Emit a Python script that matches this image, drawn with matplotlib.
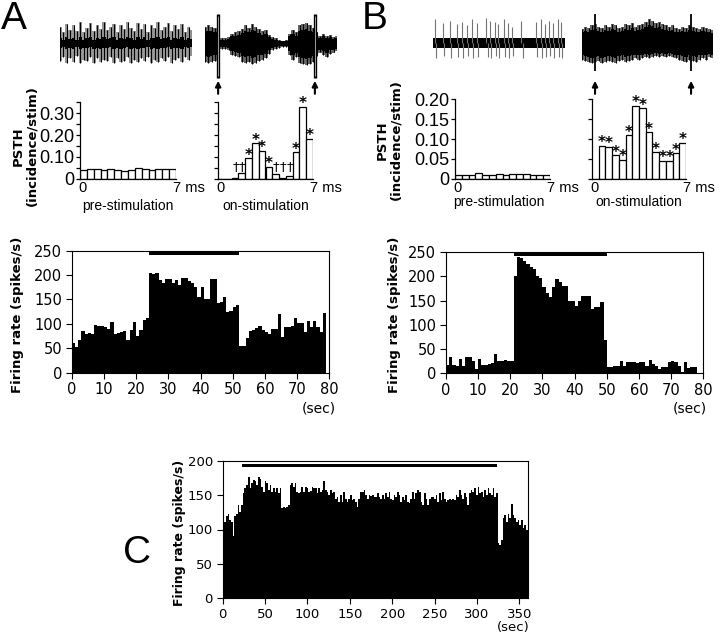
import numpy as np
import matplotlib
matplotlib.use('Agg')
import matplotlib.pyplot as plt

W, H = 720, 637
SANS = 'Liberation Sans'

# ---------------- data ----------------
# PSTH, 0.5 ms bins from 0 to 7 ms (incidence/stim)
psth_edges = np.arange(0, 7, 0.5)
psth_a_pre = [0.041, 0.045, 0.045, 0.043, 0.044, 0.042, 0.037, 0.043, 0.050, 0.045, 0.040, 0.044, 0.044, 0.046]
psth_a_on = [0.0, 0.002, 0.006, 0.025, 0.094, 0.163, 0.128, 0.056, 0.023, 0.006, 0.015, 0.122, 0.327, 0.183]
psth_a_marks = ['', '', '†', '†', '*', '*', '*', '*', '†', '†', '†', '*', '*', '*']
psth_b_pre = [0.010, 0.010, 0.010, 0.015, 0.010, 0.010, 0.013, 0.010, 0.013, 0.012, 0.012, 0.010, 0.010, 0.011]
psth_b_on = [0.0, 0.083, 0.081, 0.059, 0.048, 0.109, 0.183, 0.177, 0.117, 0.067, 0.046, 0.046, 0.064, 0.091]
psth_b_marks = [''] + ['*'] * 13

# firing rate, 1 s bins (spikes/s)
rate_a = [61, 52, 66, 86, 80, 82, 80, 98, 96, 95, 93, 89, 103, 80, 81, 83, 85, 67, 87, 103,
          76, 87, 108, 112,
          205, 202, 204, 190, 183, 193, 191, 183, 189, 180, 195, 195, 187, 183, 176, 156,
          175, 151, 150, 192, 192, 142, 144, 156, 124, 127, 134, 139,
          55, 55, 72, 85, 87, 92, 96, 87, 83, 79, 89, 90, 120, 74, 93, 94, 96, 112, 101, 101,
          83, 105, 93, 105, 93, 83, 122]
rate_b = [18, 33, 18, 16, 30, 16, 33, 34, 26, 9, 29, 17, 17, 19, 21, 40, 26, 26, 27, 26, 26,
          200, 240, 238, 233, 226, 220, 216, 202, 197, 178, 165, 157, 179, 194, 188, 181, 181,
          150, 150, 140, 150, 160, 160, 160, 133, 136, 136, 147,
          69,
          14, 12, 15, 16, 25, 16, 24, 24, 24, 21, 23, 23, 16, 28, 19, 16, 9, 14, 14, 24,
          26, 23, 16, 3, 23, 11, 14, 12]
# panel C, ~2 s bins over 360 s
rate_c = [137, 111, 119, 122, 114, 111, 90, 119, 123, 136, 126, 136, 153, 160, 165, 177, 160, 167, 172, 170,
          165, 177, 174, 162, 155, 170, 167, 157, 165, 155, 160, 154, 160, 153, 160, 131, 133, 131, 133, 136,
          165, 167, 162, 167, 155, 153, 155, 162, 155, 162, 160, 155, 156, 162, 160, 160, 153, 160, 155, 157,
          170, 157, 155, 150, 157, 153, 155, 145, 147, 140, 150, 140, 155, 145, 140, 145, 150, 143, 145, 140,
          133, 145, 155, 155, 157, 150, 145, 150, 149, 150, 147,
          147, 153, 147, 145, 150, 145, 153, 147, 155, 145, 143, 150, 147, 155, 150, 140, 147, 143, 150, 140,
          138, 145, 155, 145, 153, 157, 155, 140, 136, 153, 145, 136, 145, 147, 147, 145, 150, 140, 153, 143,
          155, 145, 140, 143, 145, 143, 145, 143, 150, 147, 157, 150, 145, 153, 147, 136, 153, 157, 155, 160,
          150, 162, 153, 155, 147, 157, 150, 160, 153, 150, 160, 147, 153,
          80, 77, 85, 116, 121, 111, 123, 116, 137, 121, 116, 111, 114, 107, 114, 102, 107, 99]
stim_a = [24, 52]
stim_b = [21, 50]
stim_c = [23, 324]

# raw traces: envelope of overlaid sweeps (arbitrary units), -0.95..8.6 ms
stim_times = [0, 7]
trace_a_pre_up = [14, 9, 16, 11, 15, 10, 18, 9, 13, 17, 10, 15, 12, 18, 11, 14, 16, 9, 15, 12,
                  18, 13, 10, 17, 12, 16, 9, 15, 13, 18, 11, 14, 17, 10, 15, 12, 16, 9, 14, 11]
trace_a_pre_lo = [-15, -12, -17, -13, -16, -11, -17, -14, -15, -12, -17, -13, -16, -14, -15, -12, -17, -13, -16, -15,
                  -12, -17, -14, -16, -13, -15, -12, -17, -14, -16, -13, -15, -12, -17, -14, -13, -16, -12, -14, -11]
trace_a_on_up = [14, 15, 14, 13, 6, 4, 4, 5, 8, 9, 10, 12, 15, 13, 16, 14, 12, 10, 11, 7,
                 5, 4, 3, 2, 3, 8, 11, 9, 15, 16, 17, 15, 13, 9, 6, 8, 6, 7, 5, 6]
trace_a_on_lo = [-16, -17, -16, -15, -8, -5, -5, -6, -10, -11, -12, -16, -17, -16, -18, -17, -15, -14, -13, -9,
                 -6, -5, -4, -3, -3, -10, -14, -12, -17, -18, -19, -18, -16, -11, -8, -10, -12, -9, -8, -7]
trace_b_on_up = [12, 14, 13, 15, 16, 14, 13, 15, 14, 16, 15, 13, 14, 16, 15, 17, 14, 15, 16, 18,
                 20, 19, 17, 18, 16, 15, 14, 15, 13, 12, 14, 13, 15, 14, 13, 12, 14, 13, 12, 11]
trace_b_on_lo = [-14, -15, -16, -17, -16, -15, -17, -16, -15, -16, -17, -15, -14, -16, -15, -14, -13, -14, -13, -12,
                 -13, -12, -11, -12, -11, -12, -11, -12, -13, -14, -15, -16, -14, -15, -16, -14, -13, -14, -12, -13]
spike_b_t = [-0.81, -0.21, 0.28, 0.76, 1.16, 1.48, 1.84, 2.2, 2.92, 3.16, 3.52, 3.76,
             4.2, 4.48, 4.77, 5.45, 6.53, 6.84, 7.13, 7.42, 7.73, 8.09, 8.33]
spike_b_up = [20, 17, 19, 16, 18, 15, 20, 17, 21, 19, 18, 16, 20, 17, 14, 19, 18, 20, 16, 19, 17, 20, 18]
spike_b_dn = [-13, -11, -13, -12, -13, -11, -13, -12, -12, -13, -11, -13, -12, -13, -11, -13, -12, -13,
              -12, -11, -13, -12, -13]

fig = plt.figure(figsize=(W / 100, H / 100), dpi=100)


def px_axes(left, top, right, bottom):
    return fig.add_axes([left / W, 1 - bottom / H, (right - left) / W, (bottom - top) / H])


def px_text(x, y, s, **kw):
    fig.text(x / W, 1 - y / H, s, **kw)


# ---------------- raw traces ----------------
def trace_axes(left, right):
    ax = px_axes(left, 10, right, 95)
    ax.set_xlim(-0.95, 8.6)
    ax.set_ylim(-44, 28)
    ax.axis('off')
    return ax


def envelope(ax, up, lo, inner=0.6, fringe='0.4'):
    t = np.linspace(-0.95, 8.6, len(up))
    up = np.array(up, float)
    lo = np.array(lo, float)
    ax.fill_between(t, lo, up, step='mid', color=fringe, lw=0)
    ax.vlines(t, lo, up, color='black', lw=0.8)
    ax.fill_between(t, lo * inner, up * inner, step='mid', color='black', lw=0)
    ax.plot(t, np.zeros_like(t), color='black', lw=3.5)


def arrows(ax):
    for s in stim_times:
        ax.annotate('', xy=(s, -32), xytext=(s, -43),
                    arrowprops=dict(arrowstyle='-|>', color='black', lw=1.5,
                                    mutation_scale=8, shrinkA=0, shrinkB=0))


ax = trace_axes(60, 192)
envelope(ax, trace_a_pre_up, trace_a_pre_lo, inner=0.3, fringe='0.6')

ax = trace_axes(205, 337)
envelope(ax, trace_a_on_up, trace_a_on_lo, inner=0.7)
ax.vlines(stim_times, -30, 25, color='black', lw=2.4)
ax.vlines(stim_times, -28, 23, color='0.7', lw=0.6)
arrows(ax)

ax = trace_axes(433, 565)
tb = np.linspace(-0.95, 8.6, 40)
ax.fill_between(tb, -4, 4, color='black', lw=0)
ax.vlines(spike_b_t, 0, spike_b_up, color='0.45', lw=0.8)
ax.vlines(np.array(spike_b_t) + 0.08, spike_b_dn, 0, color='0.45', lw=0.8)

ax = trace_axes(582, 713)
envelope(ax, trace_b_on_up, trace_b_on_lo, inner=0.75)
ax.vlines(stim_times, -24, 25, color='black', lw=1.3)
arrows(ax)


# ---------------- PSTH ----------------
def psth(rect, values, ymax, ylabels, marks=None, dagger_y=0.0):
    ax = px_axes(*rect)
    ax.bar(psth_edges, values, width=0.5, align='edge', color='white', edgecolor='black', lw=0.9)
    ax.set_xlim(0, 7)
    ax.set_ylim(0, ymax)
    for s in ['top', 'right']:
        ax.spines[s].set_visible(False)
    for s in ['left', 'bottom']:
        ax.spines[s].set_linewidth(0.9)
    ax.set_xticks([])
    ticks = np.arange(0, ymax + 1e-9, 0.05)
    ax.set_yticks(ticks)
    ax.set_yticklabels(ylabels if ylabels else [''] * len(ticks), family=SANS)
    ax.tick_params(axis='y', direction='out', length=3, width=0.9, pad=1, labelsize=13)
    ax.annotate('0', xy=(0, 0), xycoords=('data', 'axes fraction'), xytext=(2, -1.5),
                textcoords='offset points', ha='center', va='top', fontsize=10.5, family=SANS)
    ax.annotate('7 ms', xy=(7, 0), xycoords=('data', 'axes fraction'), xytext=(-2.5, -1.5),
                textcoords='offset points', ha='left', va='top', fontsize=10.5, family=SANS)
    if marks:
        for x, v, m in zip(psth_edges, values, marks):
            if m == '*':
                ax.annotate('*', (x + 0.25, v), xytext=(0, -1), textcoords='offset points',
                            ha='center', va='baseline', fontsize=11, fontweight='bold',
                            annotation_clip=False)
            elif m == '†':
                ax.annotate('†', (x + 0.3, dagger_y), ha='center', va='baseline',
                            fontsize=9.5, annotation_clip=False)
    return ax


a_lab = ['0', '', '0.10', '', '0.20', '', '0.30', '']
b_lab = ['0', '0.05', '0.10', '0.15', '0.20']
psth((80, 102, 176, 179), psth_a_pre, 0.35, a_lab)
psth((218, 102, 313, 179), psth_a_on, 0.35, None, psth_a_marks, dagger_y=0.04)
psth((455, 99, 550, 179), psth_b_pre, 0.20, b_lab)
psth((592, 99, 686, 179), psth_b_on, 0.20, None, psth_b_marks)

for x, y, s in [(128, 206, 'pre-stimulation'), (266, 206, 'on-stimulation'),
                (499, 202.5, 'pre-stimulation'), (639, 202.5, 'on-stimulation')]:
    px_text(x, y, s, ha='center', va='center', fontsize=10, family=SANS)

px_text(25, 146, 'PSTH\n(incidence/stim)', ha='center', va='center', rotation=90,
        fontsize=9.5, fontweight='bold', linespacing=1.0)
px_text(389, 140, 'PSTH\n(incidence/stim)', ha='center', va='center', rotation=90,
        fontsize=9.5, fontweight='bold', linespacing=1.0)


# ---------------- firing rate ----------------
def rate_panel(rect, values, bin_w, xmax, ymax, xticks, yticks, stim, fs,
               bar_gap_px=0, bar_px=4):
    ax = px_axes(*rect)
    x = np.arange(len(values)) * bin_w
    ax.bar(x, values, width=bin_w, align='edge', color='black', lw=0)
    ax.set_xlim(0, xmax)
    ax.set_ylim(0, ymax)
    unit = ymax / (rect[3] - rect[1])
    ax.fill_between(stim, ymax - (bar_gap_px + bar_px) * unit, ymax - bar_gap_px * unit,
                    color='black', lw=0)
    for s in ax.spines.values():
        s.set_linewidth(0.8)
    ax.set_xticks(xticks)
    ax.set_yticks(yticks)
    ax.tick_params(direction='out', length=4, width=0.8, pad=3, labelsize=fs)
    return ax


rate_panel((71.7, 250.7, 329.3, 372.7), rate_a, 1, 80, 250, range(0, 81, 10),
           range(0, 251, 50), stim_a, 10.5)
rate_panel((446, 252.3, 703.3, 373.3), rate_b, 1, 80, 250, range(0, 81, 10),
           range(0, 251, 50), stim_b, 10.5)
rate_panel((222.7, 460.7, 527.8, 598.3), rate_c, 360 / len(rate_c), 360, 200,
           range(0, 351, 50), range(0, 201, 50), stim_c, 9.5, bar_gap_px=3, bar_px=3)

px_text(17.5, 315, 'Firing rate (spikes/s)', ha='center', va='center', rotation=90,
        fontsize=9.5, fontweight='bold')
px_text(394, 315, 'Firing rate (spikes/s)', ha='center', va='center', rotation=90,
        fontsize=9.5, fontweight='bold')
px_text(180, 533, 'Firing rate (spikes/s)', ha='center', va='center', rotation=90,
        fontsize=9, fontweight='bold')

px_text(319, 409, '(sec)', ha='center', va='center', fontsize=10)
px_text(690, 409, '(sec)', ha='center', va='center', fontsize=10)
px_text(513, 628, '(sec)', ha='center', va='center', fontsize=9.5)

px_text(14, 19, 'A', ha='center', va='center', fontsize=28, family=SANS)
px_text(375, 19, 'B', ha='center', va='center', fontsize=28, family=SANS)
px_text(137, 553, 'C', ha='center', va='center', fontsize=28, family=SANS)

fig.savefig('out.png', dpi=100)
